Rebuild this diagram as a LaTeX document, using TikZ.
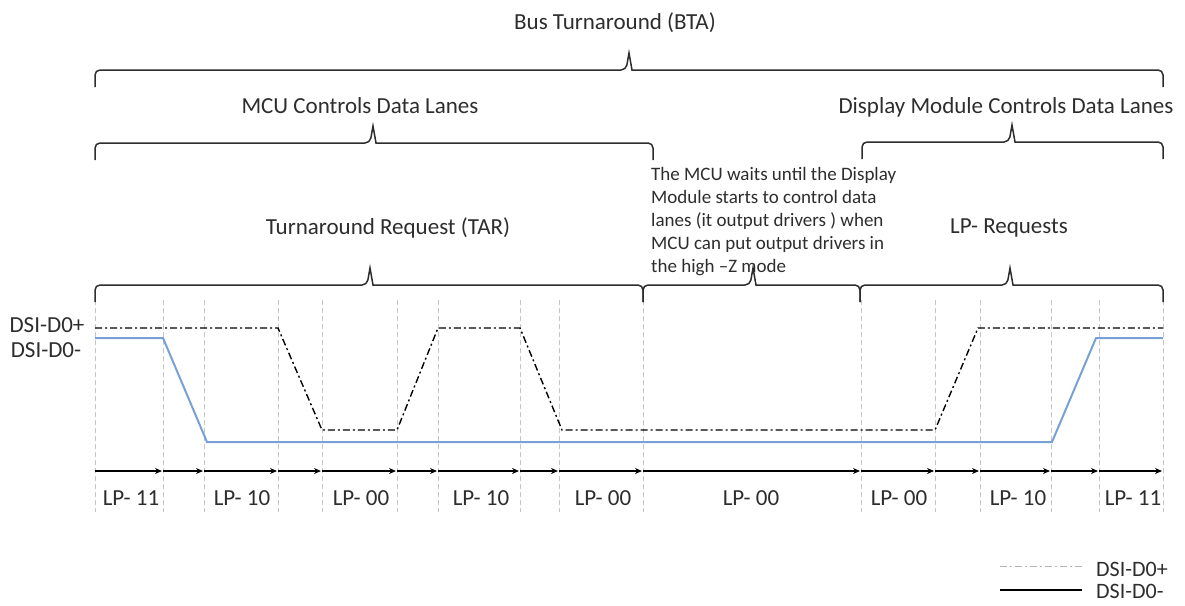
\documentclass[tikz,border=0pt]{standalone}
\usepackage{fontspec}
\setmainfont{Carlito}
\usetikzlibrary{arrows.meta}
\definecolor{lineblue}{RGB}{120,160,212}
\definecolor{inkgray}{RGB}{45,45,45}
\newcommand{\timebrace}[4]{% left x, right x, tick x, y
  \draw[brace] (#1,#4+17) [rounded corners=5pt] -- (#1,#4) -- (#3-3,#4) [sharp corners] -- (#3,#4-17) -- (#3+3,#4) [rounded corners=5pt] -- (#2,#4) -- (#2,#4+17);}
\begin{document}
\begin{tikzpicture}[x=1pt, y=-1pt,
  brace/.style={line width=1.5pt, draw=inkgray},
  lbl/.style={font=\fontsize{23}{27}\selectfont, text=inkgray, inner sep=0pt},
  guide/.style={draw=gray!45, line width=0.8pt, dash pattern=on 5pt off 3pt},
  seg/.style={line width=1.2pt, -{Stealth[length=7pt,width=6pt]}, shorten >=1pt},
  dplus/.style={line width=1.4pt, dash pattern=on 7pt off 3pt on 2pt off 3pt},
  dminus/.style={line width=2pt, draw=lineblue}]
\useasboundingbox (0,0) rectangle (1185,605);
\foreach \x in {95,163,204,278,322,397,438,520,559,643,861,935,980,1051,1099,1163}
  \draw[guide] (\x,300) -- (\x,512);
\timebrace{95}{1163}{629}{70}
\timebrace{95}{653}{373}{143}
\timebrace{862}{1163}{1012}{142}
\timebrace{95}{643}{370}{285}
\timebrace{643}{860}{753}{285}
\timebrace{860}{1163}{1010}{285}
\node[lbl] (bta) at (615,23) {Bus Turnaround (BTA)};
\node[lbl] (mcu) at (360,106) {MCU Controls Data Lanes};
\node[lbl] (dmc) at (1006,107) {Display Module Controls Data Lanes};
\node[lbl] (tar) at (388,228) {Turnaround Request (TAR)};
\node[lbl] (lpreq) at (1009,228) {LP- Requests};
\node[lbl, font=\fontsize{19}{23}\selectfont, align=left, anchor=north west] (wait) at (651,167)
  {The MCU waits until the Display\\Module starts to control data\\lanes (it output drivers ) when\\MCU can put output drivers in\\the high –Z mode};
\node[lbl] (dp) at (47,325) {DSI-D0+};
\node[lbl] (dm) at (46,350) {DSI-D0-};
\draw[dminus] (95,338) -- (163,338) -- (207,442) -- (1052,442) -- (1096,338) -- (1163,338);
\draw[dplus] (95,328) -- (278,328) -- (322,430) -- (397,430) -- (438,328) -- (520,328) -- (562,430) -- (935,430) -- (978,328) -- (1163,328);
\foreach \x [count=\i] in {95,163,204,278,322,397,438,520,559,643,861,935,980,1051,1099,1163}
  \coordinate (t\i) at (\x,471);
\foreach \i [evaluate=\i as \j using int(\i+1)] in {1,...,15}
  \draw[seg] (t\i) -- (t\j);
\foreach \x/\s [count=\n] in {131/11,242/10,361/00,481/10,603/00,751/00,899/00,1018/10,1133/11}
  \node[lbl] (lp\n) at (\x,498) {LP- \s};
\coordinate (legpa) at (1000,566);
\coordinate (legpb) at (1082,566);
\coordinate (legma) at (1000,590);
\coordinate (legmb) at (1082,590);
\draw[dplus, draw=gray!60, line width=1pt] (legpa) -- (legpb);
\draw[line width=1.4pt] (legma) -- (legmb);
\node[lbl, font=\fontsize{22}{26}\selectfont, anchor=west] (legp) at (1096,569) {DSI-D0+};
\node[lbl, font=\fontsize{22}{26}\selectfont, anchor=west] (legm) at (1096,591) {DSI-D0-};
\end{tikzpicture}
\end{document}
